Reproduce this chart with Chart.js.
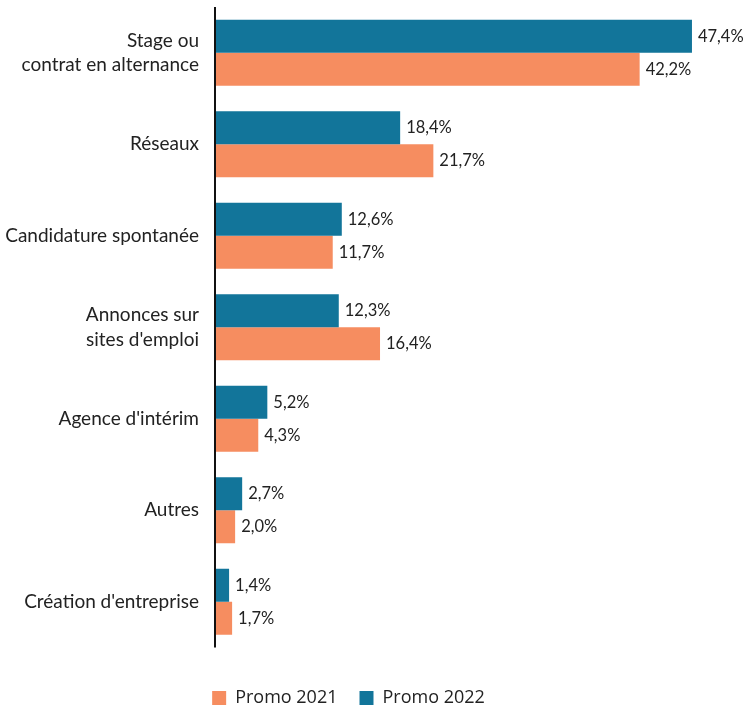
<!DOCTYPE html>
<html lang="fr">
<head>
  <meta charset="UTF-8" />
  <title>Canaux d'accès à l'emploi</title>
  <script src="https://cdn.jsdelivr.net/npm/chart.js"></script>
  <style>
    html, body { margin: 0; padding: 0; background: #fff; }
    #wrap { width: 745px; height: 708px; position: relative; }
  </style>
</head>
<body>
  <div id="wrap"><canvas id="chart"></canvas></div>
  <script>
    const categories = [
      ["Stage ou", "contrat en alternance"],
      "Réseaux",
      "Candidature spontanée",
      ["Annonces sur", "sites d'emploi"],
      "Agence d'intérim",
      "Autres",
      "Création d'entreprise"
    ];
    const promo2022 = [47.4, 18.4, 12.6, 12.3, 5.2, 2.7, 1.4];
    const promo2021 = [42.2, 21.7, 11.7, 16.4, 4.3, 2.0, 1.7];

    const teal = "#12759a";
    const orange = "#f68d60";
    const fontFamily = "Lato, 'Noto Sans', sans-serif";

    // value labels at the end of each bar
    const valueLabels = {
      id: "valueLabels",
      afterDatasetsDraw(chart) {
        const ctx = chart.ctx;
        ctx.save();
        ctx.font = "16.5px " + fontFamily;
        ctx.fillStyle = "#222";
        ctx.textBaseline = "middle";
        ctx.textAlign = "left";
        chart.data.datasets.forEach((ds, i) => {
          chart.getDatasetMeta(i).data.forEach((bar, j) => {
            const txt = ds.data[j].toFixed(1).replace(".", ",") + "%";
            ctx.fillText(txt, bar.x + 6, bar.y);
          });
        });
        ctx.restore();
      }
    };

    // vertical axis line
    const axisLine = {
      id: "axisLine",
      afterDatasetsDraw(chart) {
        const { ctx, chartArea } = chart;
        ctx.save();
        ctx.strokeStyle = "#111";
        ctx.lineWidth = 2;
        ctx.beginPath();
        ctx.moveTo(chartArea.left, chartArea.top);
        ctx.lineTo(chartArea.left, chartArea.bottom);
        ctx.stroke();
        ctx.restore();
      }
    };

    new Chart(document.getElementById("chart"), {
      type: "bar",
      data: {
        labels: categories,
        datasets: [
          { label: "Promo 2022", data: promo2022, backgroundColor: teal },
          { label: "Promo 2021", data: promo2021, backgroundColor: orange }
        ]
      },
      options: {
        indexAxis: "y",
        responsive: true,
        maintainAspectRatio: false,
        animation: false,
        categoryPercentage: 0.72,
        barPercentage: 1,
        layout: { padding: { top: 7, right: 48, left: 0, bottom: -9 } },
        scales: {
          x: {
            min: 0,
            max: 47.9,
            ticks: { display: false },
            grid: { display: false },
            border: { display: false },
            afterFit(scale) { scale.height = 19.5; }
          },
          y: {
            grid: { display: false },
            border: { display: false },
            ticks: {
              color: "#222",
              padding: 8,
              font: { family: fontFamily, size: 19, lineHeight: 1.3 }
            },
            afterFit(scale) {
              scale.width = 215;
              scale.paddingTop = 0;
              scale.paddingBottom = 0;
            }
          }
        },
        plugins: {
          legend: {
            position: "bottom",
            reverse: true,
            labels: {
              boxWidth: 14,
              boxHeight: 14,
              padding: 22,
              color: "#222",
              font: { family: "'Open Sans', sans-serif", size: 18 }
            }
          },
          tooltip: { enabled: false }
        }
      },
      plugins: [valueLabels, axisLine]
    });
  </script>
</body>
</html>
